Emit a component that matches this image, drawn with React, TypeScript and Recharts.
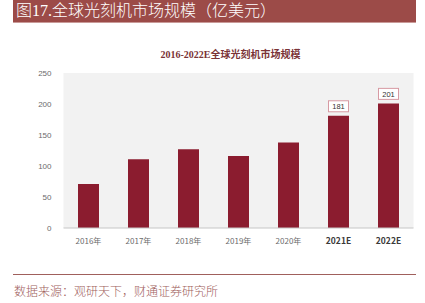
import React from 'react';
import { BarChart, Bar, XAxis, YAxis, CartesianGrid, LabelList } from 'recharts';

const years = ['2016年', '2017年', '2018年', '2019年', '2020年', '2021E', '2022E'];
const marketSize = [71, 111, 127, 116, 138, 181, 201];
const yTicks = [0, 50, 100, 150, 200, 250];
const labelledYears = ['2021E', '2022E'];

const data = years.map((year, i) => ({ year, value: marketSize[i] }));

const XTick = (props: any) => {
  const { x, y, payload } = props;
  const est = labelledYears.includes(payload.value);
  return (
    <text
      x={x}
      y={y + 8}
      textAnchor="middle"
      fontSize={est ? 8.5 : 8}
      fontWeight={est ? 700 : 400}
      fill={est ? '#3a3a3a' : '#6b6b6b'}
      fontFamily="'Noto Sans CJK SC', sans-serif"
    >
      {payload.value}
    </text>
  );
};

const BoxLabel = (props: any) => {
  const { x, y, width, value, index } = props;
  if (!labelledYears.includes(years[index])) return null;
  const cx = x + width / 2;
  const w = 20;
  const h = 11;
  return (
    <g>
      <rect x={cx - w / 2} y={y - 4 - h} width={w} height={h} fill="#fff" stroke="#d79aa3" strokeWidth={1} />
      <text x={cx} y={y - 4 - h / 2 + 3} textAnchor="middle" fontSize={7.5} fill="#333" fontFamily="'Liberation Sans', sans-serif">
        {value}
      </text>
    </g>
  );
};

export default function App() {
  return (
    <div style={{ position: 'absolute', left: 0, top: 0, width: 425, height: 303, background: '#fff', overflow: 'hidden' }}>
      <div
        style={{
          position: 'absolute', left: 13, top: 0, width: 403, height: 23, background: '#9c4b48',
          borderBottom: '1px solid #c99a98', color: '#fff', fontSize: 16, lineHeight: '22px', paddingLeft: 3,
          fontWeight: 300, fontFamily: "'Liberation Serif', 'Noto Sans CJK SC', serif", boxSizing: 'border-box',
        }}
      >
        图17.全球光刻机市场规模（亿美元）
      </div>
      <div
        style={{
          position: 'absolute', left: 0, width: 425, top: 46, textAlign: 'center', paddingLeft: 36, boxSizing: 'border-box',
          fontSize: 10, fontWeight: 700, color: '#7a3336', fontFamily: "'Liberation Serif', 'Noto Sans CJK SC', serif",
        }}
      >
        2016-2022E全球光刻机市场规模
      </div>
      <div style={{ position: 'absolute', left: 0, top: 0 }}>
        <BarChart width={425} height={303} data={data} margin={{ top: 73, right: 11.5, bottom: 55, left: 13 }} barCategoryGap={14.5}>
          <CartesianGrid horizontal={false} vertical={false} fill="#f2f2f2" />
          <XAxis dataKey="year" height={20} tick={<XTick />} axisLine={{ stroke: '#c6c6c6' }} tickLine={false} interval={0} />
          <YAxis
            width={50.5}
            domain={[0, 250]}
            ticks={yTicks}
            axisLine={false}
            tickLine={false}
            tick={{ fill: '#6b6b6b', fontSize: 8, fontFamily: "'Liberation Sans', sans-serif" }}
            tickMargin={6}
          />
          <Bar dataKey="value" fill="#8b1c2f" isAnimationActive={false}>
            <LabelList dataKey="value" content={<BoxLabel />} />
          </Bar>
        </BarChart>
      </div>
      <div style={{ position: 'absolute', left: 13, top: 274, width: 403, height: 1, background: '#a0605c' }} />
      <div
        style={{
          position: 'absolute', left: 14, top: 282, fontSize: 12, color: '#a0605c', fontWeight: 300,
          fontFamily: "'Liberation Serif', 'Noto Sans CJK SC', serif", whiteSpace: 'nowrap',
        }}
      >
        数据来源：观研天下，财通证券研究所
      </div>
    </div>
  );
}
